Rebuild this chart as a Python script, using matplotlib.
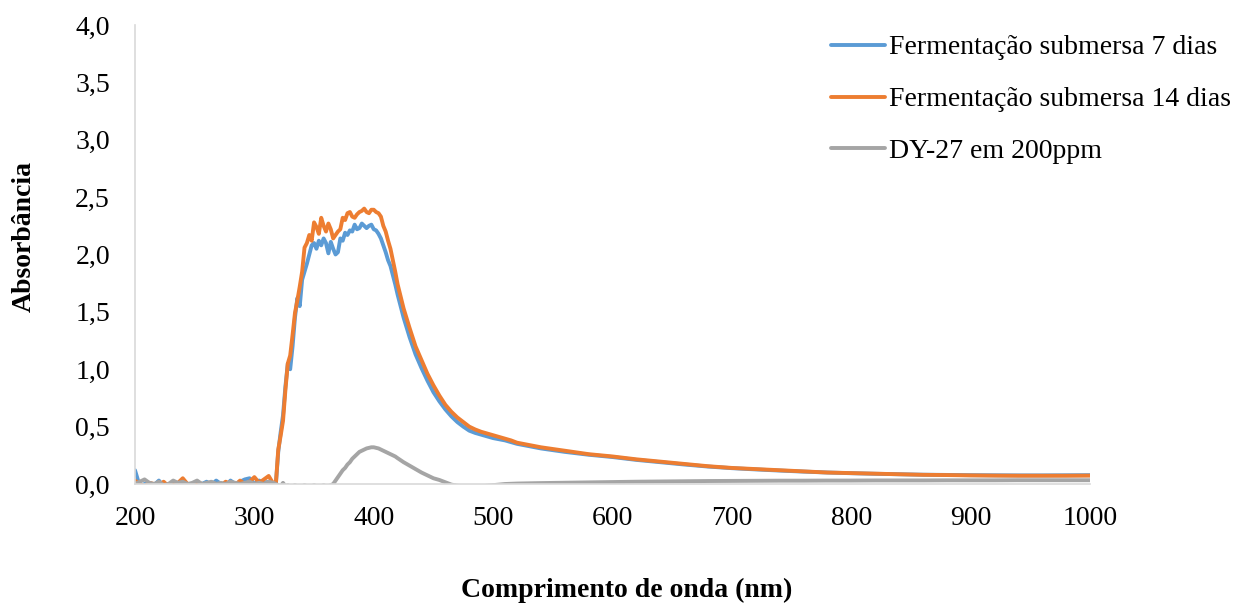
import numpy as np
import matplotlib
matplotlib.use("Agg")
import matplotlib.pyplot as plt
from matplotlib.ticker import FuncFormatter

# wavelength grid (nm): 4 nm up to 316, 2 nm across the band, then coarser
wavelength = np.concatenate([np.arange(200, 317, 4),
                             np.arange(318, 421, 2),
                             np.arange(425, 521, 5),
                             np.arange(540, 1001, 20)])

absorb_7_dias = [
    # 200-316
    0.12, -0.02, 0.00, 0.01, -0.01, 0.03, -0.02, 0.00, -0.01, 0.00,
    0.01, -0.02, 0.00, -0.01, 0.00, 0.02, -0.01, 0.03, 0.00, -0.02,
    0.03, 0.00, 0.02, 0.04, 0.05, 0.00, 0.03, 0.01, 0.02, 0.00,
    # 318-420
    0.00, 0.28, 0.45, 0.60, 0.85, 1.05, 1.00, 1.20, 1.45, 1.62,
    1.55, 1.78, 1.85, 1.92, 2.00, 2.08, 2.10, 2.05, 2.12, 2.08,
    2.14, 2.10, 2.01, 2.11, 2.05, 2.00, 2.02, 2.14, 2.12, 2.19,
    2.17, 2.21, 2.20, 2.26, 2.22, 2.23, 2.27, 2.25, 2.23, 2.25,
    2.26, 2.22, 2.21, 2.18, 2.14, 2.08, 2.02, 1.95, 1.90, 1.82,
    1.74, 1.65,
    # 425-520
    1.45, 1.28, 1.13, 1.01, 0.90, 0.80, 0.72, 0.65, 0.59, 0.54,
    0.50, 0.465, 0.445, 0.43, 0.415, 0.40, 0.39, 0.38, 0.365, 0.35,
    # 540-1000
    0.31, 0.28, 0.255, 0.235, 0.21, 0.19, 0.17, 0.152, 0.138, 0.127,
    0.117, 0.108, 0.100, 0.094, 0.089, 0.085, 0.081, 0.079, 0.077, 0.076,
    0.075, 0.075, 0.076, 0.077,
]

absorb_14_dias = [
    # 200-316
    0.03, 0.00, -0.02, 0.01, 0.00, -0.01, 0.02, -0.02, 0.00, 0.01,
    0.05, 0.00, -0.01, 0.02, 0.00, -0.02, 0.01, 0.00, -0.01, 0.02,
    0.00, -0.01, 0.03, 0.00, 0.02, 0.06, 0.01, 0.04, 0.07, 0.00,
    # 318-420
    0.00, 0.30, 0.42, 0.55, 0.82, 1.05, 1.12, 1.30, 1.49, 1.60,
    1.72, 1.85, 2.06, 2.10, 2.17, 2.12, 2.28, 2.24, 2.18, 2.32,
    2.25, 2.20, 2.27, 2.22, 2.14, 2.17, 2.20, 2.22, 2.32, 2.30,
    2.36, 2.37, 2.33, 2.32, 2.35, 2.37, 2.38, 2.40, 2.37, 2.36,
    2.39, 2.39, 2.37, 2.36, 2.33, 2.25, 2.20, 2.12, 2.05, 1.95,
    1.85, 1.74,
    # 425-520
    1.53, 1.36, 1.20, 1.08, 0.96, 0.86, 0.77, 0.69, 0.63, 0.58,
    0.54, 0.50, 0.475, 0.455, 0.44, 0.425, 0.41, 0.395, 0.38, 0.36,
    # 540-1000
    0.32, 0.29, 0.26, 0.24, 0.215, 0.195, 0.175, 0.155, 0.14, 0.13,
    0.12, 0.11, 0.10, 0.095, 0.09, 0.085, 0.08, 0.078, 0.075, 0.073,
    0.072, 0.072, 0.072, 0.073,
]

absorb_dy27 = [
    # 200-316
    0.00, 0.02, 0.04, 0.01, 0.00, 0.02, -0.01, 0.00, 0.03, 0.01,
    0.02, 0.00, 0.01, 0.03, 0.00, 0.01, 0.02, 0.00, 0.01, 0.00,
    0.02, 0.01, 0.00, 0.01, 0.02, 0.00, 0.01, 0.00, 0.02, 0.01,
    # 318-420
    0.00, -0.01, -0.02, 0.01, -0.02, -0.01, -0.02, -0.02, -0.01, -0.02,
    -0.02, -0.02, -0.01, -0.02, -0.02, -0.02, -0.01, -0.02, -0.02, -0.02,
    -0.01, -0.02, -0.02, -0.01, 0.00, 0.03, 0.06, 0.09, 0.12, 0.14,
    0.17, 0.19, 0.22, 0.24, 0.26, 0.28, 0.29, 0.30, 0.31, 0.315,
    0.32, 0.32, 0.315, 0.31, 0.30, 0.29, 0.28, 0.27, 0.26, 0.25,
    0.24, 0.225,
    # 425-520
    0.19, 0.16, 0.13, 0.10, 0.075, 0.05, 0.035, 0.015, -0.005, -0.015,
    -0.02, -0.025, -0.025, -0.02, -0.015, -0.01, -0.005, 0.00, 0.002, 0.004,
    # 540-1000
    0.008, 0.011, 0.014, 0.017, 0.020, 0.022, 0.024, 0.026, 0.027, 0.028,
    0.029, 0.029, 0.030, 0.030, 0.031, 0.031, 0.031, 0.032, 0.032, 0.032,
    0.033, 0.033, 0.033, 0.033,
]

series_labels = ["Fermentação submersa 7 dias",
                 "Fermentação submersa 14 dias",
                 "DY-27 em 200ppm"]
series_colors = ["#5B9BD5", "#ED7D31", "#A5A5A5"]

plt.rcParams['font.family'] = ['Liberation Serif', 'DejaVu Serif']

fig = plt.figure(figsize=(12.39, 6.04), dpi=100)
ax = fig.add_axes([135 / 1239, 1 - 484 / 604, 955 / 1239, 459 / 604])

for values, label, color in zip([absorb_7_dias, absorb_14_dias, absorb_dy27], series_labels, series_colors):
    ax.plot(wavelength, values, color=color, lw=2.8, label=label,
            solid_joinstyle='round', solid_capstyle='round')

ax.set_xlim(200, 1000)
ax.set_ylim(0, 4.0)
ax.set_xticks(np.arange(200, 1001, 100))
ax.set_yticks(np.arange(0, 4.01, 0.5))
ax.yaxis.set_major_formatter(FuncFormatter(lambda v, p: f"{v:.1f}".replace(".", ",")))

for side in ["top", "right"]:
    ax.spines[side].set_visible(False)
for side in ["left", "bottom"]:
    ax.spines[side].set_color("#D9D9D9")
    ax.spines[side].set_linewidth(1.2)
ax.tick_params(axis="both", length=0, labelsize=20, colors="black")
ax.tick_params(axis="x", pad=16)
ax.tick_params(axis="y", pad=18)

fig.text(627 / 1239, 1 - 590 / 604, "Comprimento de onda (nm)", ha="center", va="center",
         fontsize=20, fontweight="bold")
fig.text(24 / 1239, 1 - 237 / 604, "Absorbância", ha="center", va="center", rotation=90,
         fontsize=20, fontweight="bold")

ax.legend(loc="upper left", bbox_to_anchor=(831 / 1239, 1 - 35 / 604), bbox_transform=fig.transFigure,
          frameon=False, fontsize=20, handlelength=1.95, handletextpad=0.15, labelspacing=0.95,
          borderaxespad=0, borderpad=0)

fig.savefig("out.png", dpi=100)
